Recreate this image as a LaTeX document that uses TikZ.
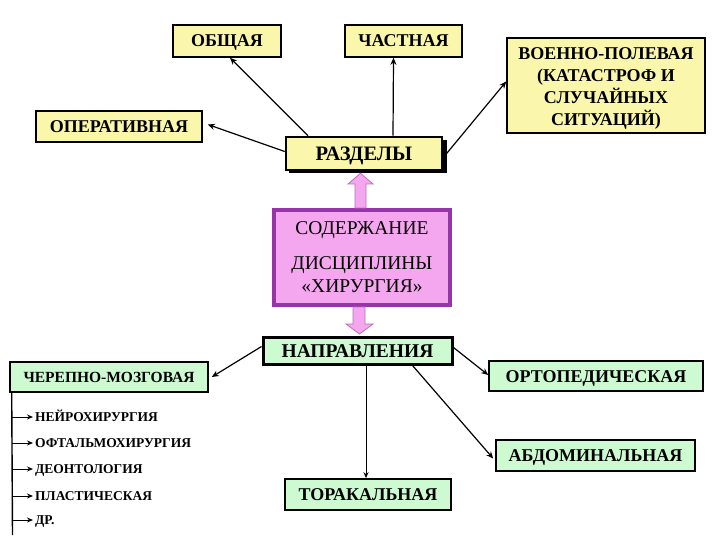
\documentclass[tikz,border=0pt]{standalone}
\usepackage{fontspec}
\setmainfont{Liberation Serif}
\usetikzlibrary{arrows.meta,calc}
\definecolor{ylw}{RGB}{250,246,172}
\definecolor{grn}{RGB}{206,250,210}
\definecolor{pnk}{RGB}{244,166,238}
\definecolor{pnkline}{RGB}{190,110,190}
\definecolor{prp}{RGB}{150,52,170}
\tikzset{
  ybox/.style={draw=black, line width=1.6pt, fill=ylw, inner sep=0pt,
    text height=12pt, text depth=0pt, font=\fontsize{18}{22}\selectfont\bfseries},
  gbox/.style={draw=black, line width=1.6pt, fill=grn, inner sep=0pt,
    text height=12pt, text depth=0pt, font=\fontsize{18}{22}\selectfont\bfseries},
  item/.style={anchor=west, inner sep=0pt, text height=9pt, text depth=0pt,
    font=\fontsize{13.5}{16}\selectfont\bfseries},
  conn/.style={line width=1.2pt, -{Stealth[length=7pt,width=6pt]}},
  thinarr/.style={line width=1pt, -{Stealth[length=6pt,width=5pt]}},
  blockarr/.style={fill=pnk, draw=pnkline, line width=0.8pt}
}
\begin{document}
\begin{tikzpicture}[x=1pt,y=-1pt]
\useasboundingbox (0,0) rectangle (720,540);
\fill[white] (0,0) rectangle (720,540);

% top section
\node[ybox, minimum width=108pt, minimum height=32pt] (obsh) at (227,41) {ОБЩАЯ};
\node[ybox, minimum width=117pt, minimum height=32pt] (chast) at (403.5,41) {ЧАСТНАЯ};
\node[ybox, minimum width=198pt, minimum height=95pt] (voen) at (606,85.5) {};
\node[inner sep=0pt, align=center, font=\fontsize{18}{22}\selectfont\bfseries] (voentxt) at (606,88)
  {ВОЕННО-ПОЛЕВАЯ\\(КАТАСТРОФ И\\СЛУЧАЙНЫХ\\СИТУАЦИЙ)};
\node[ybox, minimum width=166pt, minimum height=31pt] (oper) at (119,126.5) {ОПЕРАТИВНАЯ};
\fill[black] (289,140) rectangle (447,173);
\node[ybox, line width=2.6pt, minimum width=156pt, minimum height=33pt,
  text height=13.5pt, font=\fontsize{20.5}{24}\selectfont\bfseries] (razd) at (364,153.5) {РАЗДЕЛЫ};

\draw[conn] ([xshift=-56pt]razd.north) -- ([xshift=3pt]obsh.south);
\draw[conn] ([xshift=29pt]razd.north) -- ([xshift=-10pt]chast.south);
\draw[conn] ([yshift=-4pt]razd.east) -- ([yshift=4pt]voen.west);
\draw[conn] ([yshift=2pt]razd.west) -- ([xshift=5pt,yshift=2pt]oper.east);

% content box
\node[draw=prp, line width=4pt, fill=pnk, minimum width=176pt, minimum height=95pt,
  inner sep=0pt, align=center, font=\fontsize{19.5}{23}\selectfont] (sod) at (362,257.5)
  {СОДЕРЖАНИЕ\\[12pt]ДИСЦИПЛИНЫ\\«ХИРУРГИЯ»};

\node[draw=black, line width=3pt, fill=grn, minimum width=189pt, minimum height=27pt,
  inner sep=0pt, text height=13pt, text depth=0pt, font=\fontsize{19.5}{22}\selectfont\bfseries] (napr) at (357.5,350.5) {НАПРАВЛЕНИЯ};

% block arrows
\draw[blockarr] ($(sod.north)+(-7,0)$) -- ($(sod.north)+(-7,-24)$) -- ($(sod.north)+(-14,-24)$)
  -- ($(razd.south)+(-3.5,2)$) -- ($(sod.north)+(11,-24)$) -- ($(sod.north)+(4,-24)$)
  -- ($(sod.north)+(4,0)$) -- cycle;
\draw[blockarr] ($(sod.south)+(-9,0)$) -- ($(sod.south)+(-9,17)$) -- ($(sod.south)+(-16,17)$)
  -- ($(napr.north)+(2,-1.5)$) -- ($(sod.south)+(11,17)$) -- ($(sod.south)+(3,17)$)
  -- ($(sod.south)+(3,0)$) -- cycle;

% bottom section
\node[gbox, minimum width=198pt, minimum height=30pt, text height=10.5pt,
  font=\fontsize{15.5}{18}\selectfont\bfseries] (cher) at (109,377) {ЧЕРЕПНО-МОЗГОВАЯ};
\node[gbox, minimum width=214pt, minimum height=30pt] (orto) at (596,376) {ОРТОПЕДИЧЕСКАЯ};
\node[gbox, minimum width=199pt, minimum height=31pt] (abd) at (595.5,455.5) {АБДОМИНАЛЬНАЯ};
\node[gbox, minimum width=166pt, minimum height=31pt] (tor) at (368,494.5) {ТОРАКАЛЬНАЯ};

\draw[conn] ([yshift=4pt]napr.west) -- ([xshift=3pt]cher.east);
\draw[conn] ([yshift=3pt]napr.east) -- ([yshift=1pt]orto.west);
\draw[conn] ([xshift=55pt]napr.south) -- ([xshift=-2pt,yshift=-3pt]abd.west);
\draw[thinarr] ([xshift=8.5pt]napr.south) -- (tor.north -| {$(napr.south)+(8.5pt,0)$});

% list
\coordinate (ltop) at ([xshift=2.5pt]cher.south west);
\coordinate (lbot) at (12.5,535);
\draw[line width=1.4pt] (ltop) -- (lbot);
\foreach \y/\t/\n in {417/НЕЙРОХИРУРГИЯ/a, 443/ОФТАЛЬМОХИРУРГИЯ/b, 469/ДЕОНТОЛОГИЯ/c, 496/ПЛАСТИЧЕСКАЯ/d, 520/ДР./e}{
  \node[item] (it\n) at (35,\y) {\t};
  \draw[thinarr] (ltop |- it\n.west) -- ([xshift=-2pt]it\n.west);
}
\end{tikzpicture}
\end{document}
